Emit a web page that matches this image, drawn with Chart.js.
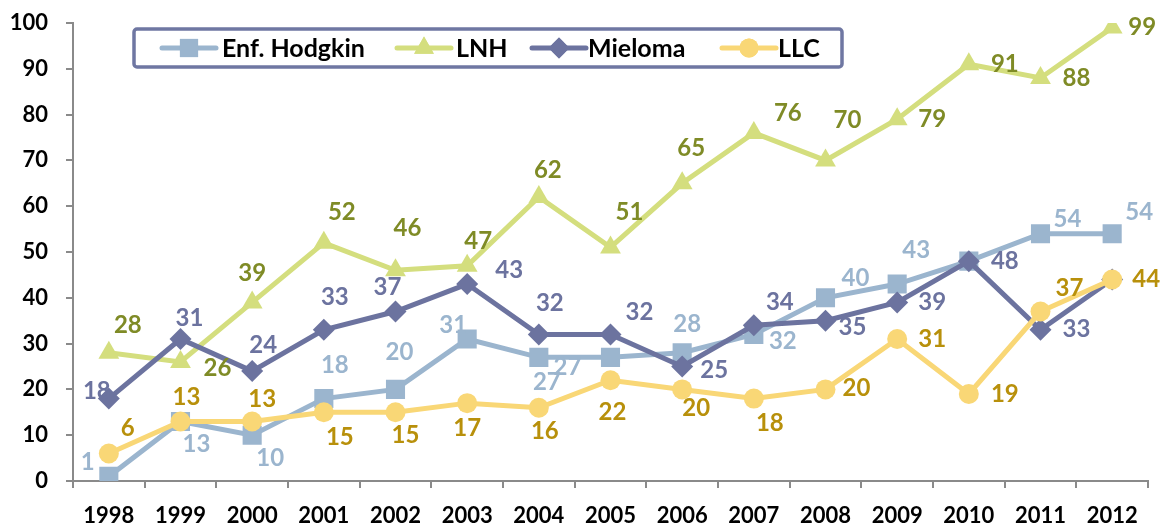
<!DOCTYPE html>
<html>
<head>
<meta charset="utf-8">
<script src="https://cdn.jsdelivr.net/npm/chart.js@4.4.1/dist/chart.umd.min.js"></script>
<style>
html, body { margin: 0; padding: 0; background: #fff; }
#wrap { width: 1163px; height: 527px; }
</style>
</head>
<body>
<div id="wrap"><canvas id="chart" width="1163" height="527"></canvas></div>
<script>
// data
const years = ['1998', '1999', '2000', '2001', '2002', '2003', '2004', '2005', '2006', '2007', '2008', '2009', '2010', '2011', '2012'];
const hodgkin = [1, 13, 10, 18, 20, 31, 27, 27, 28, 32, 40, 43, 48, 54, 54];
const lnh = [28, 26, 39, 52, 46, 47, 62, 51, 65, 76, 70, 79, 91, 88, 99];
const mieloma = [18, 31, 24, 33, 37, 43, 32, 32, 25, 34, 35, 39, 48, 33, 44];
const llc = [6, 13, 13, 15, 15, 17, 16, 22, 20, 18, 20, 31, 19, 37, 44];
const seriesNames = ['Enf. Hodgkin', 'LNH', 'Mieloma', 'LLC'];

const FONT = 'Lato, "Liberation Sans", sans-serif';
const AXIS = '#8a8a8a';

// label placement (offset from the point, px); null = label not shown
const labelOffsets = {
    'Enf. Hodgkin': [[-21, -14], [16, 23], [18, 23], [11, -33], [4, -37], [-14, -14], [8, 25], [-43, 10], [5, -28], [29, 7], [30, -20], [19, -34], null, [27, -14], [27, -21]],
    'LNH': [[19, -27], [37, 6], [0, -29], [18, -31], [12, -42], [11, -24], [9, -27], [19, -35], [9, -35], [34, -20], [22, -40], [35, 0], [36, 0], [36, 0], [30, 0]],
    'Mieloma': [[-12, -7], [9, -21], [11, -26], [11, -33], [-8, -24], [42, -14], [11, -31], [29, -22], [32, 4], [26, -23], [27, 7], [35, 0], [36, 0], [36, -1], null],
    'LLC': [[19, -25], [6, -24], [10, -22], [16, 25], [10, 23], [0, 25], [6, 24], [2, 32], [14, 19], [16, 25], [31, -1], [35, 0], [36, 0], [29, -23], [34, 0]]
};

const styles = {
    'Enf. Hodgkin': { line: '#9bb5ce', label: '#9bb5ce', point: 'rect', radius: 13.5 },
    'LNH': { line: '#d4de7e', label: '#7f8b26', point: 'triangle', radius: 12 },
    'Mieloma': { line: '#6c739f', label: '#6c739f', point: 'rectRot', radius: 11 },
    'LLC': { line: '#f9d776', label: '#b8900b', point: 'circle', radius: 10 }
};

const makeSet = (name, values, order) => ({
    label: name,
    data: values,
    borderColor: styles[name].line,
    backgroundColor: styles[name].line,
    pointBackgroundColor: styles[name].line,
    pointBorderColor: styles[name].line,
    pointBorderWidth: 0,
    pointStyle: styles[name].point,
    pointRadius: styles[name].radius,
    borderWidth: 5,
    tension: 0,
    fill: false,
    order: order
});

// value labels next to each point
const valueLabels = {
    id: 'valueLabels',
    afterDatasetsDraw(chart) {
        const ctx = chart.ctx;
        ctx.save();
        ctx.font = 'bold 24px ' + FONT;
        ctx.textAlign = 'center';
        ctx.textBaseline = 'middle';
        chart.data.datasets.forEach((ds, i) => {
            const meta = chart.getDatasetMeta(i);
            const offs = labelOffsets[ds.label];
            ctx.fillStyle = styles[ds.label].label;
            meta.data.forEach((pt, j) => {
                const o = offs[j];
                if (!o) return;
                ctx.fillText(String(ds.data[j]), pt.x + o[0], pt.y + o[1]);
            });
        });
        ctx.restore();
    }
};

// boxed legend with line + marker icons
const boxLegend = {
    id: 'boxLegend',
    afterDraw(chart) {
        const ctx = chart.ctx;
        ctx.save();
        ctx.lineWidth = 3.5;
        ctx.strokeStyle = '#6f77a2';
        ctx.beginPath();
        ctx.roundRect(134, 29, 708, 38, 3);
        ctx.fillStyle = '#fff';
        ctx.fill();
        ctx.stroke();

        const iconX = [162, 397, 532, 722];
        const textX = [222, 456, 588, 778];
        const cy = 48;
        seriesNames.forEach((name, i) => {
            const st = styles[name];
            ctx.strokeStyle = st.line;
            ctx.lineWidth = 5;
            ctx.lineCap = 'round';
            ctx.beginPath();
            ctx.moveTo(iconX[i], cy);
            ctx.lineTo(iconX[i] + 54, cy);
            ctx.stroke();
            ctx.fillStyle = st.line;
            Chart.helpers.drawPoint(ctx, { pointStyle: st.point, radius: st.radius * 0.95, rotation: 0, borderWidth: 0 }, iconX[i] + 27, cy);
            ctx.fill();
            ctx.fillStyle = '#000';
            ctx.font = 'bold 25px ' + FONT;
            ctx.textAlign = 'left';
            ctx.textBaseline = 'middle';
            ctx.fillText(name, textX[i], cy + 1);
        });
        ctx.restore();
    }
};

const ctx = document.getElementById('chart').getContext('2d');
new Chart(ctx, {
    type: 'line',
    data: {
        labels: years,
        datasets: [
            makeSet('Enf. Hodgkin', hodgkin, 4),
            makeSet('LNH', lnh, 3),
            makeSet('Mieloma', mieloma, 2),
            makeSet('LLC', llc, 1)
        ]
    },
    options: {
        responsive: false,
        animation: false,
        layout: { padding: { top: 23, right: 15, left: 0, bottom: 0 } },
        plugins: {
            legend: { display: false },
            tooltip: { enabled: false }
        },
        scales: {
            x: {
                offset: true,
                grid: { display: true, drawOnChartArea: false, drawTicks: true, tickLength: 7, color: AXIS, lineWidth: 2, offset: true },
                border: { color: AXIS, width: 2 },
                ticks: { color: '#000', font: { family: FONT, size: 22, weight: 'bold' }, padding: 15, maxRotation: 0 },
                afterFit(scale) { scale.height = 46; }
            },
            y: {
                min: 0,
                max: 100,
                grid: { display: true, drawOnChartArea: false, drawTicks: true, tickLength: 7, color: AXIS, lineWidth: 2 },
                border: { color: AXIS, width: 2 },
                ticks: { stepSize: 10, color: '#000', font: { family: FONT, size: 22, weight: 'bold' }, padding: 18 },
                afterFit(scale) {
                    scale.width = 73;
                    scale.paddingTop = 10;
                    scale.paddingBottom = 10;
                }
            }
        }
    },
    plugins: [valueLabels, boxLegend]
});
</script>
</body>
</html>
